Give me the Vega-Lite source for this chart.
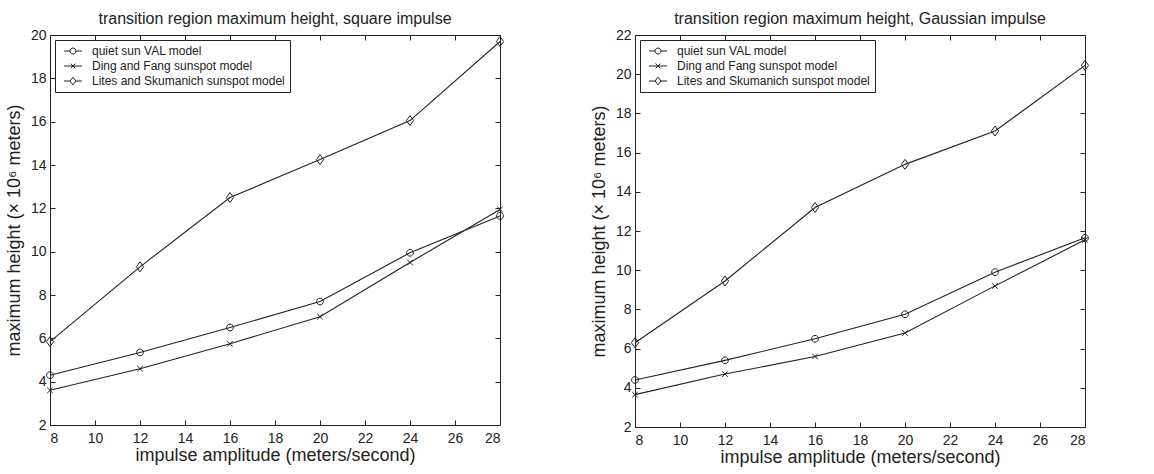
{
  "$schema": "https://vega.github.io/schema/vega-lite/v6.json",
  "padding": {"left": 4, "top": 10, "right": 6, "bottom": 4},
  "background": "white",
  "spacing": 82,
  "config": {
    "font": "Liberation Sans",
    "view": {"stroke": "#222", "strokeWidth": 1},
    "axis": {"grid": false, "domain": false, "tickColor": "#222", "tickSize": -5, "labelPadding": 9, "labelColor": "#222", "titleColor": "#222", "labelFont": "Liberation Sans", "titleFont": "Liberation Sans", "labelFontSize": 14, "titleFontSize": 18, "titleFontWeight": "normal"},
    "axisBottom": {"labelPadding": 11, "titlePadding": 1},
    "axisLeft": {"titlePadding": 7},
    "title": {"font": "Liberation Sans", "fontSize": 16, "fontWeight": "normal", "color": "#222", "offset": 1},
    "legend": {"orient": "top-left", "offset": 5, "strokeColor": "#222", "fillColor": "white", "padding": 5, "labelFont": "Liberation Sans", "labelFontSize": 12, "labelColor": "#222", "labelLimit": 0, "symbolSize": 64, "symbolStrokeWidth": 1, "symbolStrokeColor": "#222", "symbolFillColor": "transparent", "symbolOffset": 7, "labelOffset": 13, "rowPadding": 3, "title": null}
  },
  "datasets": {
    "d": [
      {"panel": "square", "model": "quiet sun VAL model", "amp": 8, "height": 4.3},
      {"panel": "square", "model": "quiet sun VAL model", "amp": 12, "height": 5.35},
      {"panel": "square", "model": "quiet sun VAL model", "amp": 16, "height": 6.5},
      {"panel": "square", "model": "quiet sun VAL model", "amp": 20, "height": 7.7},
      {"panel": "square", "model": "quiet sun VAL model", "amp": 24, "height": 9.95},
      {"panel": "square", "model": "quiet sun VAL model", "amp": 28, "height": 11.65},
      {"panel": "square", "model": "Ding and Fang sunspot model", "amp": 8, "height": 3.6},
      {"panel": "square", "model": "Ding and Fang sunspot model", "amp": 12, "height": 4.6},
      {"panel": "square", "model": "Ding and Fang sunspot model", "amp": 16, "height": 5.75},
      {"panel": "square", "model": "Ding and Fang sunspot model", "amp": 20, "height": 7.0},
      {"panel": "square", "model": "Ding and Fang sunspot model", "amp": 24, "height": 9.5},
      {"panel": "square", "model": "Ding and Fang sunspot model", "amp": 28, "height": 11.95},
      {"panel": "square", "model": "Lites and Skumanich sunspot model", "amp": 8, "height": 5.85},
      {"panel": "square", "model": "Lites and Skumanich sunspot model", "amp": 12, "height": 9.3},
      {"panel": "square", "model": "Lites and Skumanich sunspot model", "amp": 16, "height": 12.5},
      {"panel": "square", "model": "Lites and Skumanich sunspot model", "amp": 20, "height": 14.25},
      {"panel": "square", "model": "Lites and Skumanich sunspot model", "amp": 24, "height": 16.05},
      {"panel": "square", "model": "Lites and Skumanich sunspot model", "amp": 28, "height": 19.7},
      {"panel": "gauss", "model": "quiet sun VAL model", "amp": 8, "height": 4.4},
      {"panel": "gauss", "model": "quiet sun VAL model", "amp": 12, "height": 5.4},
      {"panel": "gauss", "model": "quiet sun VAL model", "amp": 16, "height": 6.5},
      {"panel": "gauss", "model": "quiet sun VAL model", "amp": 20, "height": 7.75},
      {"panel": "gauss", "model": "quiet sun VAL model", "amp": 24, "height": 9.9},
      {"panel": "gauss", "model": "quiet sun VAL model", "amp": 28, "height": 11.65},
      {"panel": "gauss", "model": "Ding and Fang sunspot model", "amp": 8, "height": 3.65},
      {"panel": "gauss", "model": "Ding and Fang sunspot model", "amp": 12, "height": 4.7},
      {"panel": "gauss", "model": "Ding and Fang sunspot model", "amp": 16, "height": 5.6},
      {"panel": "gauss", "model": "Ding and Fang sunspot model", "amp": 20, "height": 6.8},
      {"panel": "gauss", "model": "Ding and Fang sunspot model", "amp": 24, "height": 9.2},
      {"panel": "gauss", "model": "Ding and Fang sunspot model", "amp": 28, "height": 11.55},
      {"panel": "gauss", "model": "Lites and Skumanich sunspot model", "amp": 8, "height": 6.3},
      {"panel": "gauss", "model": "Lites and Skumanich sunspot model", "amp": 12, "height": 9.45},
      {"panel": "gauss", "model": "Lites and Skumanich sunspot model", "amp": 16, "height": 13.2},
      {"panel": "gauss", "model": "Lites and Skumanich sunspot model", "amp": 20, "height": 15.4},
      {"panel": "gauss", "model": "Lites and Skumanich sunspot model", "amp": 24, "height": 17.1},
      {"panel": "gauss", "model": "Lites and Skumanich sunspot model", "amp": 28, "height": 20.45}
    ]
  },
  "hconcat": [
    {
      "width": 450,
      "height": 390,
      "title": "transition region maximum height, square impulse",
      "data": {"name": "d"},
      "transform": [{"filter": "datum.panel === 'square'"}],
      "layer": [
        {
          "mark": {"type": "line", "color": "#222", "strokeWidth": 1.1},
          "encoding": {
            "x": {"field": "amp", "type": "quantitative", "scale": {"domain": [8, 28], "nice": false}, "axis": {"orient": "bottom", "values": [8,10,12,14,16,18,20,22,24,26,28], "title": "impulse amplitude (meters/second)"}},
            "y": {"field": "height", "type": "quantitative", "scale": {"domain": [2, 20], "nice": false}, "axis": {"orient": "left", "values": [2,4,6,8,10,12,14,16,18,20], "title": "maximum height (× 10⁶ meters)"}},
            "detail": {"field": "model", "type": "nominal"}
          }
        },
        {
          "mark": {"type": "point", "filled": false, "color": "#222", "size": 64, "strokeWidth": 1, "opacity": 1},
          "encoding": {
            "x": {"field": "amp", "type": "quantitative", "axis": null},
            "y": {"field": "height", "type": "quantitative", "axis": null},
            "shape": {"field": "model", "type": "nominal", "legend": null, "scale": {"domain": ["quiet sun VAL model", "Ding and Fang sunspot model", "Lites and Skumanich sunspot model"], "range": ["M-0.85,0A0.85,0.85 0 1,0 0.85,0A0.85,0.85 0 1,0 -0.85,0Z", "M-0.7,-0.7L0.7,0.7M-0.7,0.7L0.7,-0.7", "M0,-1.25L0.9,0L0,1.25L-0.9,0Z"]}}
          }
        },
        {
          "transform": [{"filter": "datum.amp < 0"}],
          "mark": {"type": "point", "filled": false, "color": "#222", "size": 64, "strokeWidth": 1, "opacity": 1},
          "encoding": {
            "x": {"field": "amp", "type": "quantitative", "axis": {"orient": "top", "values": [8,10,12,14,16,18,20,22,24,26,28], "labels": false, "title": null}},
            "y": {"field": "height", "type": "quantitative", "axis": {"orient": "right", "values": [2,4,6,8,10,12,14,16,18,20], "labels": false, "title": null}},
            "shape": {"field": "model", "type": "nominal", "scale": {"domain": ["quiet sun VAL model", "Ding and Fang sunspot model", "Lites and Skumanich sunspot model"], "range": ["M-2.25,0H-0.75M0.75,0H2.25M-0.75,0A0.75,0.75 0 1,0 0.75,0A0.75,0.75 0 1,0 -0.75,0", "M-2.25,0H2.25M-0.6,-0.6L0.6,0.6M-0.6,0.6L0.6,-0.6", "M-2.25,0H-0.75M0.75,0H2.25M0,-0.95L0.75,0L0,0.95L-0.75,0Z"]}, "legend": {}}
          }
        }
      ],
      "resolve": {"scale": {"shape": "independent"}, "axis": {"x": "independent", "y": "independent"}}
    },
    {
      "width": 450,
      "height": 392,
      "title": "transition region maximum height, Gaussian impulse",
      "data": {"name": "d"},
      "transform": [{"filter": "datum.panel === 'gauss'"}],
      "layer": [
        {
          "mark": {"type": "line", "color": "#222", "strokeWidth": 1.1},
          "encoding": {
            "x": {"field": "amp", "type": "quantitative", "scale": {"domain": [8, 28], "nice": false}, "axis": {"orient": "bottom", "values": [8,10,12,14,16,18,20,22,24,26,28], "title": "impulse amplitude (meters/second)"}},
            "y": {"field": "height", "type": "quantitative", "scale": {"domain": [2, 22], "nice": false}, "axis": {"orient": "left", "values": [2,4,6,8,10,12,14,16,18,20,22], "title": "maximum height (× 10⁶ meters)"}},
            "detail": {"field": "model", "type": "nominal"}
          }
        },
        {
          "mark": {"type": "point", "filled": false, "color": "#222", "size": 64, "strokeWidth": 1, "opacity": 1},
          "encoding": {
            "x": {"field": "amp", "type": "quantitative", "axis": null},
            "y": {"field": "height", "type": "quantitative", "axis": null},
            "shape": {"field": "model", "type": "nominal", "legend": null, "scale": {"domain": ["quiet sun VAL model", "Ding and Fang sunspot model", "Lites and Skumanich sunspot model"], "range": ["M-0.85,0A0.85,0.85 0 1,0 0.85,0A0.85,0.85 0 1,0 -0.85,0Z", "M-0.7,-0.7L0.7,0.7M-0.7,0.7L0.7,-0.7", "M0,-1.25L0.9,0L0,1.25L-0.9,0Z"]}}
          }
        },
        {
          "transform": [{"filter": "datum.amp < 0"}],
          "mark": {"type": "point", "filled": false, "color": "#222", "size": 64, "strokeWidth": 1, "opacity": 1},
          "encoding": {
            "x": {"field": "amp", "type": "quantitative", "axis": {"orient": "top", "values": [8,10,12,14,16,18,20,22,24,26,28], "labels": false, "title": null}},
            "y": {"field": "height", "type": "quantitative", "axis": {"orient": "right", "values": [2,4,6,8,10,12,14,16,18,20,22], "labels": false, "title": null}},
            "shape": {"field": "model", "type": "nominal", "scale": {"domain": ["quiet sun VAL model", "Ding and Fang sunspot model", "Lites and Skumanich sunspot model"], "range": ["M-2.25,0H-0.75M0.75,0H2.25M-0.75,0A0.75,0.75 0 1,0 0.75,0A0.75,0.75 0 1,0 -0.75,0", "M-2.25,0H2.25M-0.6,-0.6L0.6,0.6M-0.6,0.6L0.6,-0.6", "M-2.25,0H-0.75M0.75,0H2.25M0,-0.95L0.75,0L0,0.95L-0.75,0Z"]}, "legend": {}}
          }
        }
      ],
      "resolve": {"scale": {"shape": "independent"}, "axis": {"x": "independent", "y": "independent"}}
    }
  ]
}
